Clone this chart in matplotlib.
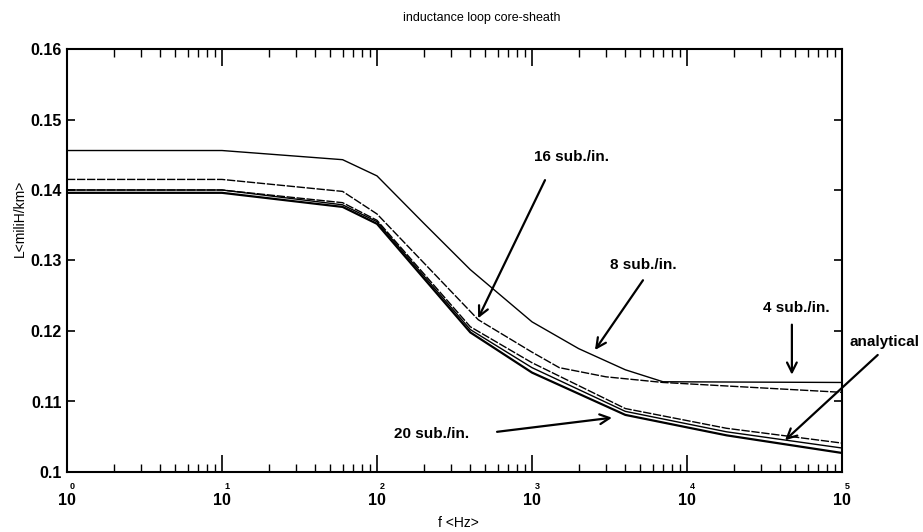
import numpy as np
import matplotlib
matplotlib.use("Agg")
import matplotlib.pyplot as plt
from matplotlib.transforms import blended_transform_factory, offset_copy

plt.rcParams['font.family'] = ['Liberation Sans', 'DejaVu Sans']

# ---------------- data (frequency in Hz, inductance in mH/km) ----------------
f_A = [1, 10, 60, 100, 200, 400, 1000, 2000, 4000, 7000, 100000]
L_A = [0.1456, 0.1456, 0.1443, 0.1420, 0.1353, 0.1287, 0.1213, 0.1175, 0.1145, 0.1128, 0.1127]

f_B = [1, 10, 60, 100, 450, 1000, 1500, 3000, 7000, 100000]
L_B = [0.1415, 0.1415, 0.1398, 0.1366, 0.1216, 0.1170, 0.1148, 0.1135, 0.1127, 0.1113]

f_grp = [1, 10, 60, 100, 400, 1000, 4000, 18000, 100000]
L_C = [0.1400, 0.1400, 0.1382, 0.1357, 0.1206, 0.1155, 0.1090, 0.1062, 0.1041]
L_D = [0.1400, 0.1400, 0.1379, 0.1355, 0.1202, 0.1148, 0.1086, 0.1057, 0.1034]
L_E = [0.1396, 0.1396, 0.1376, 0.1352, 0.1198, 0.1141, 0.1081, 0.1052, 0.1027]

ytick_vals = [0.10, 0.11, 0.12, 0.13, 0.14, 0.15, 0.16]
ytick_labels = ['0.1', '0.11', '0.12', '0.13', '0.14', '0.15', '0.16']
xtick_exponents = [0, 1, 2, 3, 4, 5]

# annotation labels: text, text position, arrow tail, arrow tip (data coords)
ann_text = ['16 sub./in.', '8 sub./in.', '4 sub./in.', 'analytical', '20 sub./in.']
ann_text_pos = [(1811, 0.1447), (5200, 0.1294), (50470, 0.1233), (189000, 0.1184), (226, 0.1054)]
ann_tail = [(1213, 0.1414), (5200, 0.1272), (47500, 0.1209), (170000, 0.1166), (595, 0.1057)]
ann_tip = [(449, 0.1218), (2548, 0.1173), (47500, 0.1138), (42900, 0.1045), (3280, 0.1077)]

# ---------------- figure ----------------
fig = plt.figure(figsize=(9.23, 5.32), dpi=100)
ax = fig.add_axes([67/923, 1-472/532, (842-67)/923, (472-49)/532])

ax.plot(f_A, L_A, color='black', lw=1.0)
ax.plot(f_B, L_B, color='black', lw=1.0, dashes=(6, 1.2))
ax.plot(f_grp, L_C, color='black', lw=1.0, dashes=(6, 1.2))
ax.plot(f_grp, L_D, color='black', lw=1.0)
ax.plot(f_grp, L_E, color='black', lw=1.6)

ax.set_xscale('log')
ax.set_xlim(1, 1e5)
ax.set_ylim(0.1, 0.16)

for s in ax.spines.values():
    s.set_linewidth(1.5)

ax.set_yticks(ytick_vals)
ax.set_yticklabels(ytick_labels, fontsize=11.5, fontweight='bold')
ax.tick_params(axis='y', which='major', direction='in', length=6, width=1.2,
               right=True, left=True, pad=4)
ax.set_xticks([10.0**e for e in xtick_exponents])
ax.set_xticklabels([])
ax.xaxis.set_minor_locator(matplotlib.ticker.LogLocator(base=10, subs=np.arange(2, 10)))
ax.xaxis.set_minor_formatter(matplotlib.ticker.NullFormatter())
ax.tick_params(axis='x', which='major', direction='in', length=12, width=1.2, top=True, bottom=True)
ax.tick_params(axis='x', which='minor', direction='in', length=6, width=1.0, top=True, bottom=True)

# x tick labels: "10" with exponent placed above
trans = blended_transform_factory(ax.transData, ax.transAxes)
for e in xtick_exponents:
    ax.text(10.0**e, -0.067, '10', transform=trans, ha='center', va='center',
            fontsize=11.5, fontweight='bold')
    ax.text(10.0**e, -0.035, str(e), transform=offset_copy(trans, fig=fig, x=5, y=0, units='dots'),
            ha='center', va='center', fontsize=6.5, fontweight='bold')

fig.text(482/923, 1-18/532, 'inductance loop core-sheath', ha='center', va='center', fontsize=9)
fig.text(20/923, 1-218/532, 'L<miliH/km>', rotation=90, ha='center', va='center', fontsize=10)
fig.text(458/923, 1-523/532, 'f <Hz>', ha='center', va='center', fontsize=10)

for t, p, a, b in zip(ann_text, ann_text_pos, ann_tail, ann_tip):
    ax.text(p[0], p[1], t, ha='center', va='center', fontsize=11, fontweight='bold')
    ax.annotate('', xy=b, xytext=a,
                arrowprops=dict(arrowstyle='->,head_length=0.7,head_width=0.35', lw=1.6,
                                color='black', shrinkA=0, shrinkB=0),
                annotation_clip=False)

fig.savefig('out.png', dpi=100)
